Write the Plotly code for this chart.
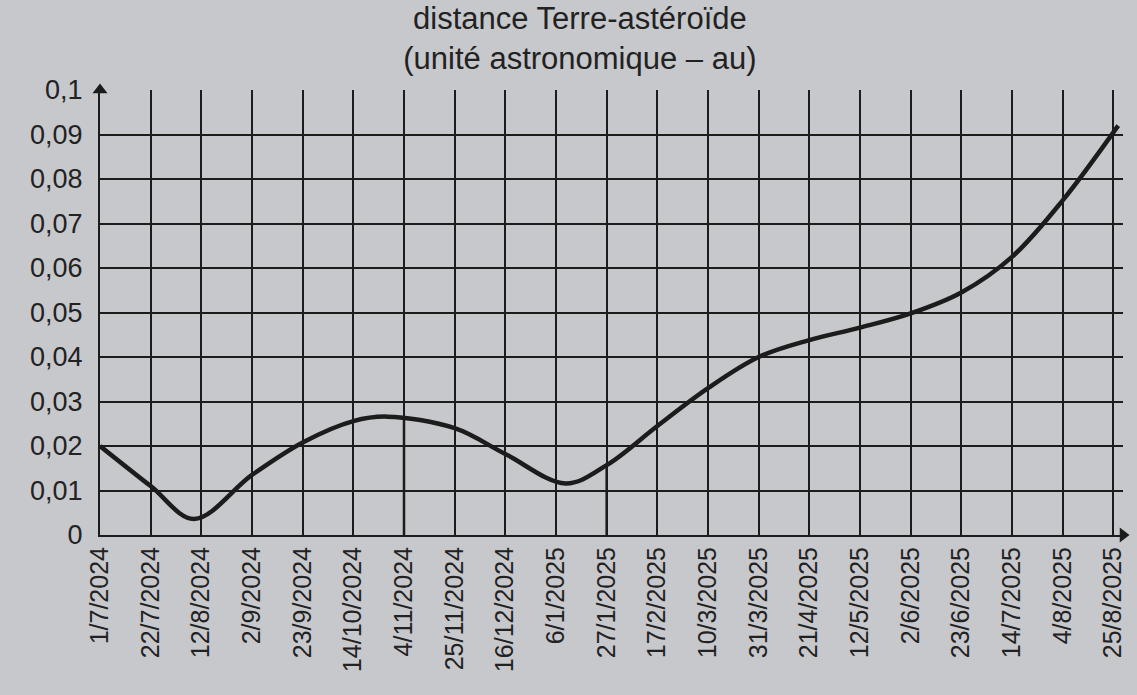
import plotly.graph_objects as go

# Tick dates (every 21 days) and labels
tick_dates = ["2024-07-01","2024-07-22","2024-08-12","2024-09-02","2024-09-23","2024-10-14",
              "2024-11-04","2024-11-25","2024-12-16","2025-01-06","2025-01-27","2025-02-17",
              "2025-03-10","2025-03-31","2025-04-21","2025-05-12","2025-06-02","2025-06-23",
              "2025-07-14","2025-08-04","2025-08-25"]
tick_labels = ["1/7/2024","22/7/2024","12/8/2024","2/9/2024","23/9/2024","14/10/2024",
               "4/11/2024","25/11/2024","16/12/2024","6/1/2025","27/1/2025","17/2/2025",
               "10/3/2025","31/3/2025","21/4/2025","12/5/2025","2/6/2025","23/6/2025",
               "14/7/2025","4/8/2025","25/8/2025"]

# Distance curve (au)
curve_dates = ["2024-07-01","2024-07-22","2024-08-09","2024-09-02","2024-09-23","2024-10-14",
               "2024-10-28","2024-11-25","2024-12-16","2025-01-10","2025-01-27","2025-02-17",
               "2025-03-10","2025-03-31","2025-04-21","2025-05-12","2025-06-02","2025-06-23",
               "2025-07-14","2025-08-04","2025-08-27"]
curve_vals = [0.0200, 0.0110, 0.0036, 0.0135, 0.0208, 0.0256,
              0.0266, 0.0240, 0.0182, 0.0116, 0.0157, 0.0245,
              0.0330, 0.0400, 0.0438, 0.0466, 0.0498, 0.0545,
              0.0625, 0.0752, 0.0920]

# Hand-drawn drop lines
drop_dates = ["2024-11-04", "2025-01-27"]
drop_tops = [0.0265, 0.0157]

y_ticks = [0, 0.01, 0.02, 0.03, 0.04, 0.05, 0.06, 0.07, 0.08, 0.09, 0.1]
y_labels = ["0","0,01","0,02","0,03","0,04","0,05","0,06","0,07","0,08","0,09","0,1"]

x_start = "2024-07-01"
x_end = "2025-08-29"

bg = "#c7c8cc"
ink = "#1c1c1c"
txt = "#222222"

fig = go.Figure()

fig.add_trace(go.Scatter(x=curve_dates, y=curve_vals, mode="lines",
                         line=dict(color=ink, width=4.5, shape="spline", smoothing=1.0),
                         hoverinfo="skip", showlegend=False))

for d, t in zip(drop_dates, drop_tops):
    fig.add_trace(go.Scatter(x=[d, d], y=[t, 0], mode="lines",
                             line=dict(color=ink, width=2.5),
                             hoverinfo="skip", showlegend=False))

# Axis arrows
fig.add_trace(go.Scatter(x=[x_start], y=[y_ticks[-1]], mode="markers",
                         marker=dict(symbol="triangle-up", size=13, color=ink),
                         cliponaxis=False, hoverinfo="skip", showlegend=False))
fig.add_trace(go.Scatter(x=[x_end], y=[0], mode="markers",
                         marker=dict(symbol="triangle-right", size=13, color=ink),
                         cliponaxis=False, hoverinfo="skip", showlegend=False))

fig.update_layout(
    width=1137, height=695,
    paper_bgcolor=bg, plot_bgcolor=bg,
    margin=dict(l=100, r=14, t=90, b=160),
    font=dict(family="Liberation Sans, Arial, sans-serif", color=txt),
    title=dict(text="distance Terre-astéroïde<br>(unité astronomique – au)",
               x=0.51, xanchor="center", xref="container",
               y=0.958, yanchor="top", yref="container",
               font=dict(size=31, color=txt)),
    showlegend=False,
)

fig.update_xaxes(
    type="date", range=[x_start, x_end],
    tickvals=tick_dates, ticktext=tick_labels, tickangle=-90,
    tickfont=dict(size=25, color=txt),
    showgrid=True, gridcolor=ink, gridwidth=1.6,
    showline=True, linecolor=ink, linewidth=2,
    ticks="", zeroline=False, fixedrange=True,
)
fig.update_yaxes(
    range=[0, 0.1],
    tickvals=y_ticks, ticktext=y_labels,
    tickfont=dict(size=27, color=txt),
    showgrid=True, gridcolor=ink, gridwidth=1.6,
    showline=True, linecolor=ink, linewidth=2,
    ticks="", ticklabelstandoff=10, zeroline=False, fixedrange=True,
)

fig.write_html("out.html", config={"displayModeBar": False},
               post_script="document.body.style.margin='0';document.body.style.background='%s';" % bg)
